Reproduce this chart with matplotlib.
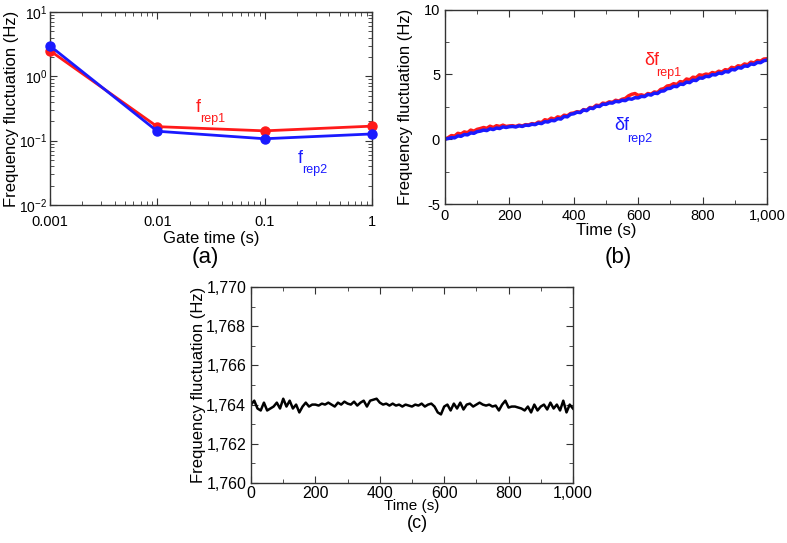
import matplotlib
matplotlib.use("Agg")
import matplotlib.pyplot as plt
import numpy as np
from matplotlib import ticker

plt.rcParams['font.family'] = ['Liberation Sans', 'DejaVu Sans']
plt.rcParams['mathtext.default'] = 'regular'
plt.rcParams['axes.unicode_minus'] = False

# (a) fluctuation vs gate time
gate = [0.001, 0.01, 0.1, 1]
frep1 = [2.5, 0.165, 0.142, 0.168]
frep2 = [2.97, 0.14, 0.107, 0.127]

# (b) drift over time, 10 s steps
time_b = list(range(0, 1001, 10))
drift2 = [0.00, 0.05, 0.12, 0.10, 0.25, 0.22, 0.36, 0.33, 0.48, 0.45, 0.58,
          0.62, 0.70, 0.66, 0.80, 0.74, 0.86, 0.82, 0.95, 0.90, 0.96,
          0.98, 0.94, 1.03, 0.98, 1.08, 1.06, 1.15, 1.12, 1.24, 1.20,
          1.35, 1.32, 1.45, 1.42, 1.58, 1.55, 1.75, 1.72, 1.92, 1.96,
          2.08, 2.05, 2.25, 2.20, 2.40, 2.36, 2.55, 2.52, 2.70, 2.68,
          2.80, 2.78, 2.92, 2.88, 3.00, 2.97, 3.12, 3.08, 3.20, 3.18,
          3.30, 3.28, 3.45, 3.40, 3.55, 3.52, 3.70, 3.72, 3.90, 3.92,
          4.08, 4.05, 4.25, 4.22, 4.40, 4.36, 4.55, 4.52, 4.72, 4.70,
          4.85, 4.82, 4.98, 4.95, 5.10, 5.06, 5.22, 5.18, 5.38, 5.34,
          5.52, 5.48, 5.65, 5.62, 5.80, 5.76, 5.92, 5.90, 6.05, 6.10]
drift1 = [0.00, 0.12, 0.28, 0.24, 0.45, 0.40, 0.56, 0.50, 0.70, 0.62, 0.76,
          0.82, 0.90, 0.84, 1.00, 0.90, 1.04, 0.98, 1.08, 0.98, 1.02,
          1.04, 0.98, 1.08, 1.02, 1.12, 1.10, 1.20, 1.16, 1.32, 1.28,
          1.50, 1.44, 1.62, 1.54, 1.72, 1.66, 1.85, 1.80, 1.98, 2.02,
          2.12, 2.08, 2.28, 2.22, 2.44, 2.42, 2.62, 2.58, 2.78, 2.74,
          2.88, 2.84, 3.00, 2.94, 3.08, 3.14, 3.34, 3.46, 3.52, 3.38,
          3.42, 3.34, 3.52, 3.47, 3.64, 3.60, 3.84, 3.90, 4.10, 4.14,
          4.28, 4.22, 4.44, 4.40, 4.64, 4.58, 4.78, 4.74, 4.96, 4.92,
          5.02, 4.98, 5.14, 5.08, 5.24, 5.18, 5.36, 5.32, 5.54, 5.48,
          5.66, 5.62, 5.80, 5.74, 5.94, 5.88, 6.06, 6.02, 6.18, 6.20]

# (c) frequency over time, 10 s steps
time_c = list(range(0, 1001, 10))
freq_c = [1764.0, 1764.2, 1763.8, 1763.7, 1764.1, 1763.7, 1763.8, 1763.9, 1764.1, 1763.8,
          1764.3, 1763.9, 1764.2, 1763.8, 1764.0, 1763.6, 1763.9, 1764.1, 1763.9, 1764.0,
          1764.0, 1763.95, 1764.05, 1764.0, 1764.1, 1764.0, 1763.9, 1764.1, 1764.0, 1764.15,
          1764.05, 1764.0, 1764.15, 1763.95, 1764.1, 1764.2, 1763.9, 1764.2, 1764.25, 1764.3,
          1764.1, 1764.0, 1764.05, 1763.95, 1764.05, 1763.95, 1764.0, 1763.9, 1764.0, 1763.95,
          1763.9, 1764.0, 1763.95, 1764.05, 1763.9, 1764.0, 1764.05, 1763.9, 1763.6, 1763.5,
          1763.9, 1764.0, 1763.7, 1764.05, 1763.8, 1764.1, 1763.75, 1764.0, 1764.05, 1763.9,
          1764.0, 1764.1, 1764.0, 1763.95, 1764.0, 1763.9, 1763.95, 1763.7, 1764.0, 1764.2,
          1763.85, 1763.9, 1763.9, 1763.85, 1763.8, 1763.7, 1763.9, 1763.6, 1764.0, 1763.7,
          1763.9, 1764.0, 1763.75, 1764.1, 1763.8, 1764.0, 1763.7, 1764.2, 1763.6, 1764.0,
          1763.8]

red = '#ff1a1a'
blue = '#1a1aff'

fig = plt.figure(figsize=(7.87, 5.43), dpi=100)
axa = fig.add_axes([0.0635, 0.6225, 0.409, 0.3555])
axb = fig.add_axes([0.5654, 0.6243, 0.4092, 0.3582])
axc = fig.add_axes([0.319, 0.1105, 0.409, 0.361])


def style(ax, lsize=10.5):
    for s in ax.spines.values():
        s.set_linewidth(1.0)
        s.set_color('#333333')
    ax.tick_params(which='both', direction='in', top=True, right=True,
                   labelsize=lsize, color='#333333')
    ax.tick_params(which='major', length=5)
    ax.tick_params(which='minor', length=3)


def sublabel(ax, x1, y1, x2, y2, big, small, color):
    ax.text(x1, y1, big, color=color, fontsize=13, ha='left', va='baseline', transform=ax.transAxes)
    ax.text(x2, y2, small, color=color, fontsize=9, ha='left', va='top', transform=ax.transAxes)


# (a)
axa.plot(gate, frep1, '-o', color=red, lw=2, ms=6.5, clip_on=False, zorder=3)
axa.plot(gate, frep2, '-o', color=blue, lw=2, ms=6.5, clip_on=False, zorder=3)
axa.set_xscale('log')
axa.set_yscale('log')
axa.set_xlim(0.001, 1)
axa.set_ylim(0.01, 10)
axa.xaxis.set_major_formatter(ticker.FuncFormatter(lambda v, p: f'{v:g}'))
axa.xaxis.set_minor_formatter(ticker.NullFormatter())
style(axa, 10.5)
axa.tick_params(axis='x', pad=7)
axa.tick_params(axis='y', pad=2, labelsize=10)
axa.set_xlabel('Gate time (s)', fontsize=12, labelpad=2)
axa.set_ylabel('Frequency fluctuation (Hz)', fontsize=12, labelpad=0)
sublabel(axa, 0.453, 0.482, 0.466, 0.477, 'f', 'rep1', red)
sublabel(axa, 0.769, 0.219, 0.782, 0.212, 'f', 'rep2', blue)

# (b)
axb.plot(time_b, drift1, color=red, lw=2.5)
axb.plot(time_b, drift2, color=blue, lw=2.5)
axb.set_xlim(0, 1000)
axb.set_ylim(-5, 10)
axb.xaxis.set_major_locator(ticker.MultipleLocator(200))
axb.xaxis.set_minor_locator(ticker.MultipleLocator(100))
axb.yaxis.set_major_locator(ticker.MultipleLocator(5))
axb.yaxis.set_minor_locator(ticker.MultipleLocator(2.5))
axb.xaxis.set_major_formatter(ticker.StrMethodFormatter('{x:,.0f}'))
style(axb, 10.5)
axb.set_xlabel('Time (s)', fontsize=12, labelpad=0)
axb.set_ylabel('Frequency fluctuation (Hz)', fontsize=12, labelpad=8)
sublabel(axb, 0.618, 0.715, 0.657, 0.706, 'δf', 'rep1', red)
sublabel(axb, 0.525, 0.380, 0.566, 0.367, 'δf', 'rep2', blue)

# (c)
axc.plot(time_c, freq_c, color='black', lw=1.8)
axc.set_xlim(0, 1000)
axc.set_ylim(1760, 1770)
axc.xaxis.set_major_locator(ticker.MultipleLocator(200))
axc.xaxis.set_minor_locator(ticker.MultipleLocator(100))
axc.yaxis.set_major_locator(ticker.MultipleLocator(2))
axc.yaxis.set_minor_locator(ticker.MultipleLocator(1))
axc.xaxis.set_major_formatter(ticker.StrMethodFormatter('{x:,.0f}'))
axc.yaxis.set_major_formatter(ticker.StrMethodFormatter('{x:,.0f}'))
style(axc, 11.5)
axc.tick_params(axis='x', pad=2)
axc.set_xlabel('Time (s)', fontsize=11, labelpad=-1)
axc.set_ylabel('Frequency fluctuation (Hz)', fontsize=12, labelpad=0)

fig.text(205 / 787, 1 - 258 / 543, '(a)', fontsize=16, ha='center', va='center')
fig.text(618 / 787, 1 - 257 / 543, '(b)', fontsize=16, ha='center', va='center')
fig.text(417 / 787, 1 - 524 / 543, '(c)', fontsize=13, ha='center', va='center')

fig.savefig('out.png', dpi=100)
